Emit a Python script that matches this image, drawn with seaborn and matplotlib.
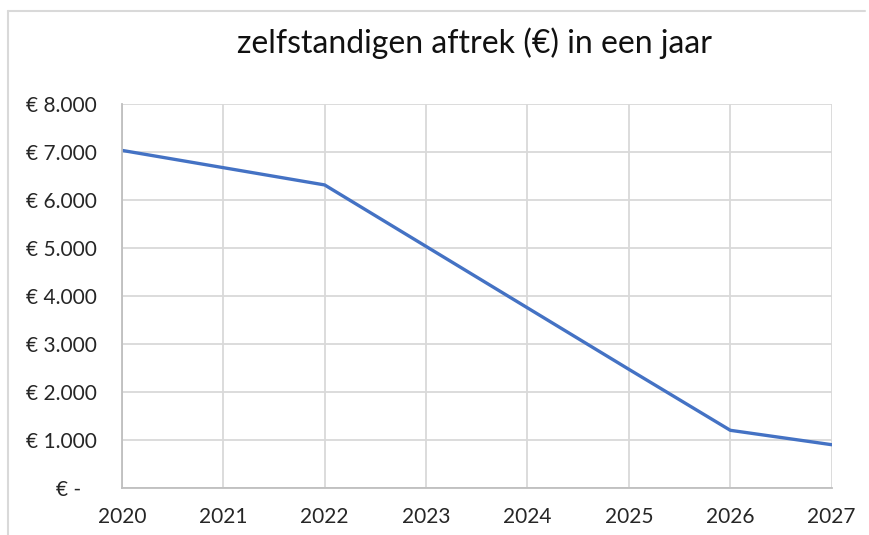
import matplotlib
matplotlib.use("Agg")
import matplotlib.pyplot as plt
import seaborn as sns
import pandas as pd
from matplotlib.lines import Line2D

years = [2020, 2021, 2022, 2023, 2024, 2025, 2026, 2027]
aftrek = [7030, 6670, 6310, 5030, 3750, 2470, 1200, 900]
y_ticks = [0, 1000, 2000, 3000, 4000, 5000, 6000, 7000, 8000]
y_labels = ["€ -   ", "€ 1.000", "€ 2.000", "€ 3.000", "€ 4.000",
            "€ 5.000", "€ 6.000", "€ 7.000", "€ 8.000"]

df = pd.DataFrame({"jaar": years, "aftrek": aftrek})

sns.set_style("white")
plt.rcParams["font.family"] = ["Lato", "DejaVu Sans"]

fig = plt.figure(figsize=(8.7, 5.35), dpi=100)
ax = fig.add_axes([0.140, 0.088, 0.816, 0.718])

sns.lineplot(data=df, x="jaar", y="aftrek", color="#4472C4", linewidth=2.4, ax=ax)

ax.set_xlim(2020, 2027)
ax.set_ylim(0, 8000)
ax.set_xticks(years)
ax.set_xticklabels([str(y) for y in years])
ax.set_yticks(y_ticks)
ax.set_yticklabels(y_labels)
ax.grid(True, color="#d9d9d9", linewidth=1.3)
ax.set_axisbelow(True)
for side in ["top", "right"]:
    ax.spines[side].set_visible(False)
for side in ["left", "bottom"]:
    ax.spines[side].set_color("#bfbfbf")
    ax.spines[side].set_linewidth(1.3)
ax.tick_params(axis="x", length=0, pad=14, labelsize=15, labelcolor="#262626")
ax.tick_params(axis="y", length=0, pad=18, labelsize=15, labelcolor="#262626")
ax.set_xlabel("")
ax.set_ylabel("")

fig.text(0.545, 0.92, "zelfstandigen aftrek (€) in een jaar", ha="center", va="center",
         fontsize=23, color="#111111")

# chart frame
fig.add_artist(Line2D([8 / 870, 865 / 870], [1 - 11 / 535, 1 - 11 / 535],
                      transform=fig.transFigure, color="#d9d9d9", linewidth=1.5))
fig.add_artist(Line2D([8 / 870, 8 / 870], [1 - 11 / 535, 0],
                      transform=fig.transFigure, color="#d9d9d9", linewidth=1.5))

fig.savefig("out.png", dpi=100)
